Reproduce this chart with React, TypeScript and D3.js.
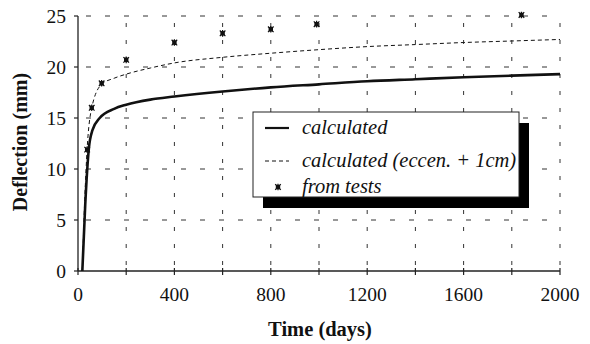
import React from "react";
import * as d3 from "d3";

const calcDays = [18, 30, 45, 60, 90, 150, 200, 300, 400, 600, 800, 1000, 1200, 1400, 1600, 1800, 2000];
const calcValues = [0, 6.5, 12, 13.8, 15, 15.9, 16.3, 16.8, 17.1, 17.6, 18.0, 18.3, 18.6, 18.8, 19.0, 19.15, 19.3];

const eccDays = [18, 28, 38, 57, 98, 150, 200, 300, 400, 600, 800, 1000, 1200, 1400, 1600, 1800, 2000];
const eccValues = [0, 7, 12, 16, 18.3, 18.9, 19.3, 19.9, 20.4, 20.95, 21.35, 21.7, 22.0, 22.2, 22.4, 22.55, 22.7];

const testDays = [38, 57, 98, 200, 400, 600, 800, 990, 1840];
const testValues = [11.9, 16.0, 18.4, 20.7, 22.4, 23.3, 23.7, 24.2, 25.1];

const xTicks = [0, 400, 800, 1200, 1600, 2000];
const xGrid = [200, 400, 600, 800, 1000, 1200, 1400, 1600, 1800, 2000];
const yTicks = [0, 5, 10, 15, 20, 25];

const legendLabels = ["calculated", "calculated (eccen. + 1cm)", "from tests"];

const W = 590, H = 344;
const x = d3.scaleLinear().domain([0, 2000]).range([78, 560]);
const y = d3.scaleLinear().domain([0, 25]).range([271, 16]);

const line = d3
  .line<[number, number]>()
  .x((d) => x(d[0]))
  .y((d) => y(d[1]))
  .curve(d3.curveMonotoneX);

const calcPts: [number, number][] = calcDays.map((d, i) => [d, calcValues[i]]);
const eccPts: [number, number][] = eccDays.map((d, i) => [d, eccValues[i]]);

const serif = '"Liberation Serif", "DejaVu Serif", serif';

function Marker({ cx, cy }: { cx: number; cy: number }) {
  const s = 2.8;
  return (
    <g>
      <rect x={cx - 2.2} y={cy - 2.2} width={4.4} height={4.4} fill="#111" />
      <path
        d={`M${cx - s},${cy - s}L${cx + s},${cy + s}M${cx - s},${cy + s}L${cx + s},${cy - s}M${cx},${cy - s - 0.5}L${cx},${cy + s + 0.5}`}
        stroke="#111"
        strokeWidth={1.2}
      />
    </g>
  );
}

export default function App() {
  const lg = { x: 253, y: 112, w: 266, h: 85 };
  const rows = [128, 161, 187];
  return (
    <div style={{ position: "absolute", left: 0, top: 0 }}>
      <svg width={W} height={H} style={{ display: "block", background: "#fff", fontFamily: serif }}>
        <rect width={W} height={H} fill="#fff" />
        {yTicks.filter((t) => t > 0).map((t) => (
          <line key={"hg" + t} x1={x(0)} x2={x(2000)} y1={y(t)} y2={y(t)} stroke="#333" strokeWidth={1} strokeDasharray="5,14" strokeDashoffset={-8} />
        ))}
        {xGrid.map((t) => (
          <line key={"vg" + t} x1={x(t)} x2={x(t)} y1={y(0)} y2={y(25)} stroke="#333" strokeWidth={1} strokeDasharray="4,13" strokeDashoffset={-6} />
        ))}
        <line x1={x(0)} x2={x(0)} y1={y(0)} y2={y(25)} stroke="#222" strokeWidth={1.3} />
        <line x1={x(0)} x2={x(2000)} y1={y(0)} y2={y(0)} stroke="#222" strokeWidth={1.3} />
        {yTicks.map((t) => (
          <line key={"yt" + t} x1={x(0) - 4} x2={x(0)} y1={y(t)} y2={y(t)} stroke="#222" strokeWidth={1.2} />
        ))}
        {xGrid.concat([0]).map((t) => (
          <line key={"xt" + t} x1={x(t)} x2={x(t)} y1={y(0) - 3} y2={y(0) + 4} stroke="#222" strokeWidth={1.2} />
        ))}
        {yTicks.map((t) => (
          <text key={"yl" + t} x={66} y={y(t)} dy="0.34em" textAnchor="end" fontSize={19.5} fill="#111" style={{ fontFamily: serif }}>
            {t}
          </text>
        ))}
        {xTicks.map((t) => (
          <text key={"xl" + t} x={x(t)} y={301} textAnchor="middle" fontSize={19.5} fill="#111" style={{ fontFamily: serif }}>
            {t}
          </text>
        ))}
        <text x={320} y={336} textAnchor="middle" fontSize={20.5} fontWeight="bold" fill="#111" style={{ fontFamily: serif }}>
          Time (days)
        </text>
        <text transform="translate(27,142) rotate(-90)" textAnchor="middle" fontSize={20} fontWeight="bold" fill="#111" style={{ fontFamily: serif }}>
          Deflection (mm)
        </text>
        <path d={line(eccPts) || ""} fill="none" stroke="#111" strokeWidth={1} strokeDasharray="4,3" />
        <path d={line(calcPts) || ""} fill="none" stroke="#111" strokeWidth={2.6} />
        {testDays.map((d, i) => (
          <Marker key={"m" + i} cx={x(d)} cy={y(testValues[i])} />
        ))}
        <rect x={lg.x + 10} y={lg.y + 11} width={lg.w} height={lg.h} fill="#000" />
        <rect x={lg.x} y={lg.y} width={lg.w} height={lg.h} fill="#fff" stroke="#222" strokeWidth={1} />
        <line x1={265} x2={289} y1={rows[0]} y2={rows[0]} stroke="#111" strokeWidth={2.2} />
        <line x1={265} x2={289} y1={rows[1]} y2={rows[1]} stroke="#111" strokeWidth={1} strokeDasharray="4,3" />
        <Marker cx={278} cy={rows[2]} />
        {legendLabels.map((l, i) => (
          <text key={"lg" + i} x={302} y={rows[i]} dy="0.3em" fontSize={20.5} fontStyle="italic" fill="#111" style={{ fontFamily: serif }}>
            {l}
          </text>
        ))}
      </svg>
    </div>
  );
}
